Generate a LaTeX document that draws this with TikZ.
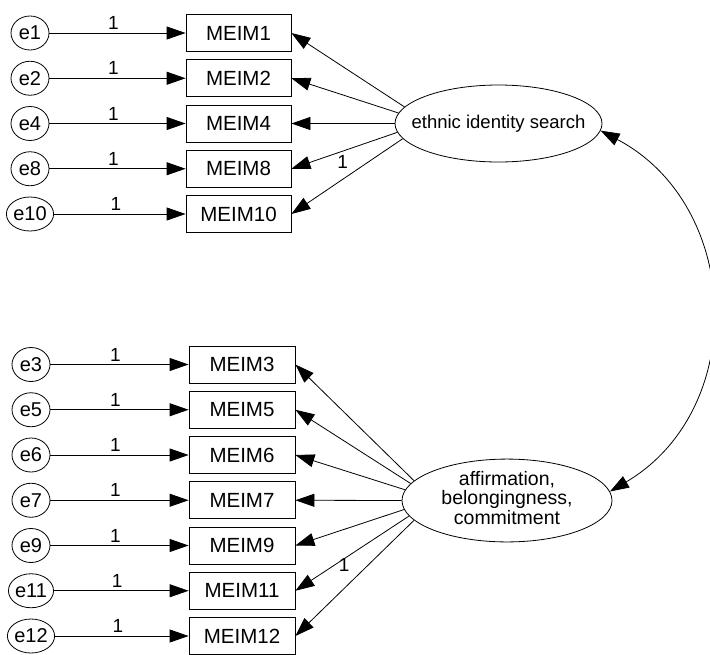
\documentclass[tikz,border=0pt]{standalone}
\usepackage{fontspec}
\setmainfont{Liberation Sans}
\usetikzlibrary{arrows.meta,shapes.geometric}

\begin{document}
\begin{tikzpicture}[x=1pt,y=-1pt,
  every node/.style={font=\fontsize{18}{18}\selectfont},
  err/.style={ellipse, draw, line width=0.8pt, minimum width=38pt, minimum height=34pt, inner sep=0pt,
    font=\fontsize{20}{20}\selectfont},
  obs/.style={rectangle, draw, line width=0.8pt, minimum height=37pt, inner sep=0pt,
    font=\fontsize{20.5}{20.5}\selectfont},
  lat/.style={ellipse, draw, line width=0.8pt, inner sep=0pt, align=center},
  arr/.style={line width=0.8pt, -{Triangle[length=19pt,width=13pt]}},
  wt/.style={inner sep=1pt, font=\fontsize{19}{19}\selectfont}
]
\useasboundingbox (0,0) rectangle (710,654);

% latent factors (text boxed to zero width so the ellipse keeps its set size)
\node[lat, minimum width=207pt, minimum height=77pt, font=\fontsize{18.5}{18.5}\selectfont] (f1) at (498.5,123.5)
  {\makebox[0pt]{ethnic identity search}};
\node[lat, minimum width=210pt, minimum height=75pt, font=\fontsize{19.5}{18}\selectfont] (f2) at (507,500.5)
  {\makebox[0pt]{\begin{tabular}{@{}c@{}}affirmation,\\belongingness,\\commitment\end{tabular}}};

% first factor: indicators, errors and loadings
\foreach \n/\y/\a in {1/33/170.5, 2/78.25/174.4, 4/123.5/180, 8/168.75/185.6, 10/214/189.5} {
  \node[err] (e\n) at (30,\y) {e\n};
  \node[obs, minimum width=105pt] (m\n) at (238.5,\y) {MEIM\n};
  \draw[arr] (e\n) -- node[wt, pos=0.47, above=2pt] {1} (m\n);
  \ifnum\n=10
    \draw[arr] (f1.\a) -- node[wt, pos=0.54, above=9pt] {1} (m\n.east);
  \else
    \draw[arr] (f1.\a) -- (m\n.east);
  \fi
}

% second factor: indicators, errors and loadings
\foreach \n/\y/\a in {3/364.5/168, 5/409.75/170.5, 6/455/174.4, 7/500.25/180, 9/545.5/185.6, 11/590.75/189.5, 12/636/192} {
  \node[err] (e\n) at (31,\y) {e\n};
  \node[obs, minimum width=106pt] (m\n) at (242,\y) {MEIM\n};
  \draw[arr] (e\n) -- node[wt, pos=0.47, above=2pt] {1} (m\n);
  \ifnum\n=12
    \draw[arr] (f2.\a) -- node[wt, pos=0.59, above=16pt] {1} (m\n.east);
  \else
    \draw[arr] (f2.\a) -- (m\n.east);
  \fi
}

% covariance between the factors
\draw[line width=0.8pt, {Triangle[length=19pt,width=13pt]}-{Triangle[length=19pt,width=13pt]}]
  (f1.-4) .. controls +(142,75) and +(139,-82) .. (f2.5);
\end{tikzpicture}
\end{document}
